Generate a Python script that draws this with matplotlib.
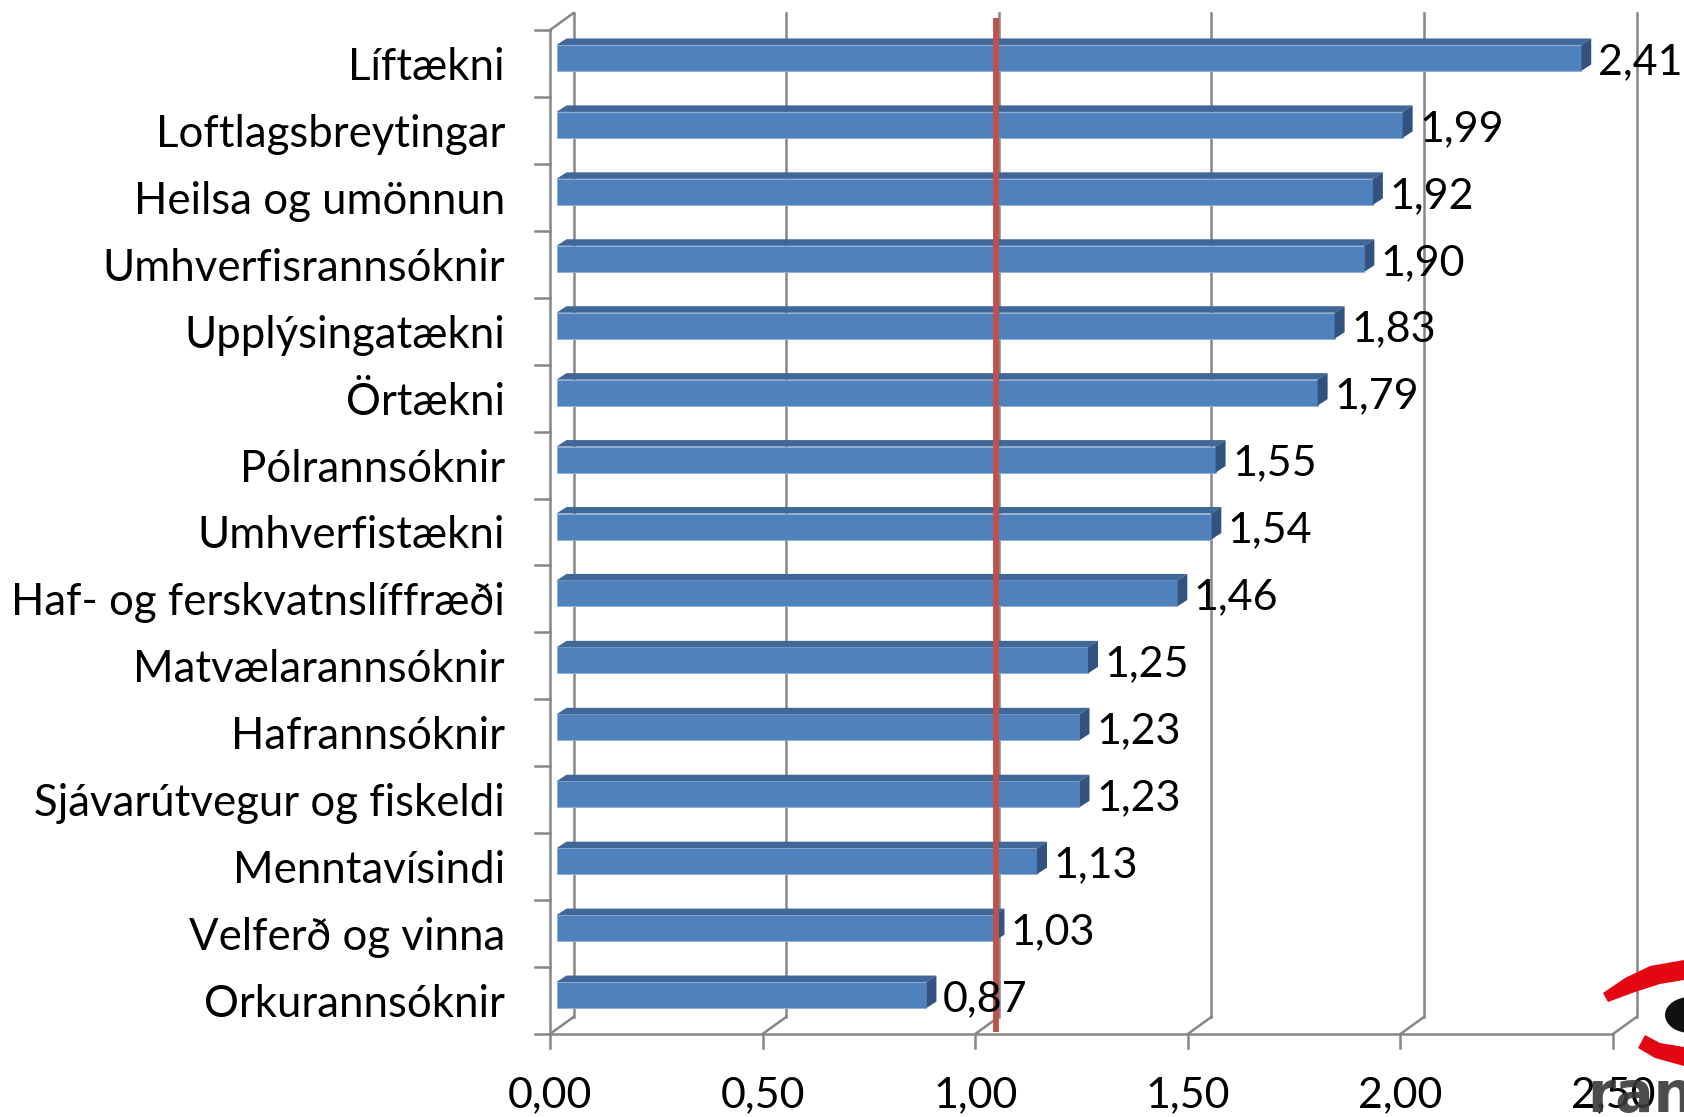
import numpy as np
import matplotlib
matplotlib.use("Agg")
import matplotlib.pyplot as plt

plt.rcParams["font.family"] = ["Lato", "DejaVu Sans"]

categories = ["Líftækni", "Loftlagsbreytingar", "Heilsa og umönnun", "Umhverfisrannsóknir",
              "Upplýsingatækni", "Örtækni", "Pólrannsóknir", "Umhverfistækni",
              "Haf- og ferskvatnslíffræði", "Matvælarannsóknir", "Hafrannsóknir",
              "Sjávarútvegur og fiskeldi", "Menntavísindi", "Velferð og vinna", "Orkurannsóknir"]
values = [2.41, 1.99, 1.92, 1.90, 1.83, 1.79, 1.55, 1.54, 1.46, 1.25, 1.23, 1.23, 1.13, 1.03, 0.87]
x_ticks = [0.0, 0.5, 1.0, 1.5, 2.0, 2.5]
average = 1.05

W, H = 1684, 1117
GRID = "#868686"
FS_CAT = 31.5
FS_VAL = 31

fig = plt.figure(figsize=(W / 100, H / 100), dpi=100)
ax = fig.add_axes([550 / W, 1 - 1034 / H, (1613 - 550) / W, (1034 - 30) / H])
ax.set_xlim(0, 2.5)
ax.set_ylim(14.5, -0.5)
ax.axis("off")

# pixel -> data units, the fake 3D is all offsets
ux = 2.5 / (1613 - 550)
uy = 15 / (1034 - 30)
depth_x, depth_y = 23.5 * ux, 17 * uy
ybot, ytop = 14.5, -0.5
lw = 1.8

# back wall and floor
for t in x_ticks:
    ax.plot([t + depth_x, t + depth_x], [ybot - depth_y, ytop - depth_y], color=GRID, lw=lw, clip_on=False, zorder=1)
    ax.plot([t, t + depth_x], [ybot, ybot - depth_y], color=GRID, lw=lw, clip_on=False, zorder=1)
    ax.plot([t, t], [ybot, ybot + 14 * uy], color=GRID, lw=lw, clip_on=False, zorder=1)
ax.plot([0, 2.5], [ybot, ybot], color=GRID, lw=lw, clip_on=False, zorder=1)
ax.plot([0, 0], [ybot, ytop], color=GRID, lw=lw, clip_on=False, zorder=1)
ax.plot([0, depth_x], [ytop, ytop - depth_y], color=GRID, lw=lw, clip_on=False, zorder=1)
for i in np.arange(len(categories) + 1):
    ax.plot([-15 * ux, 0], [i - 0.5, i - 0.5], color=GRID, lw=lw, clip_on=False, zorder=1)

# bars
start = 6.5 * ux
shift = -5.5 * uy
h = 26 * uy
bx, by = 10 * ux, 6.5 * uy
ypos = np.arange(len(categories)) + shift
ax.barh(ypos, values, left=start, height=h, color="#4F81BD", edgecolor="#8FB0D8", lw=0.7, zorder=3, clip_on=False)
for y, v in zip(ypos, values):
    x1 = start + v
    ax.fill([start, start + bx, x1 + bx, x1], [y - h / 2, y - h / 2 - by, y - h / 2 - by, y - h / 2],
            color="#3F6797", lw=0, zorder=3, clip_on=False)
    ax.fill([x1, x1 + bx, x1 + bx, x1], [y - h / 2, y - h / 2 - by, y + h / 2 - by, y + h / 2],
            color="#325280", lw=0, zorder=3, clip_on=False)
    ax.text(x1 + 16.5 * ux, y + 4 * uy, f"{v:.2f}".replace(".", ","), fontsize=FS_VAL, va="center", ha="left", zorder=5)

# category and axis labels
for i, c in enumerate(categories):
    ax.text(-45 * ux, i + 4 * uy, c, fontsize=FS_CAT, va="center", ha="right")
for t in x_ticks:
    ax.text(t, ybot + 61 * uy, f"{t:.2f}".replace(".", ","), fontsize=FS_VAL, va="center", ha="center", zorder=5)

# average line
ax.plot([average, average], [ybot - 2 * uy, ytop - 12 * uy], color="#C0504D", lw=4.2, solid_capstyle="butt",
        clip_on=False, zorder=4)

# partial logo at the corner
lax = fig.add_axes([0, 0, 1, 1], facecolor="none")
lax.set_xlim(0, W)
lax.set_ylim(H, 0)
lax.axis("off")
lax.fill([1603, 1625, 1650, 1684, 1684, 1660, 1635, 1608], [993, 978, 966, 960, 980, 984, 992, 1002], color="#E30613", lw=0)
lax.fill([1638, 1655, 1684, 1684, 1660, 1645], [1048, 1058, 1066, 1047, 1043, 1035], color="#E30613", lw=0)
lax.add_patch(matplotlib.patches.Ellipse((1690, 1015), 50, 36, color="#111111", lw=0))
lax.text(1587, 1112, "rannís", fontsize=41, fontweight="bold", family="DejaVu Sans", color="#3a3a3a",
         va="baseline", ha="left", alpha=0.9, clip_on=True)

fig.savefig("out.png", dpi=100)
